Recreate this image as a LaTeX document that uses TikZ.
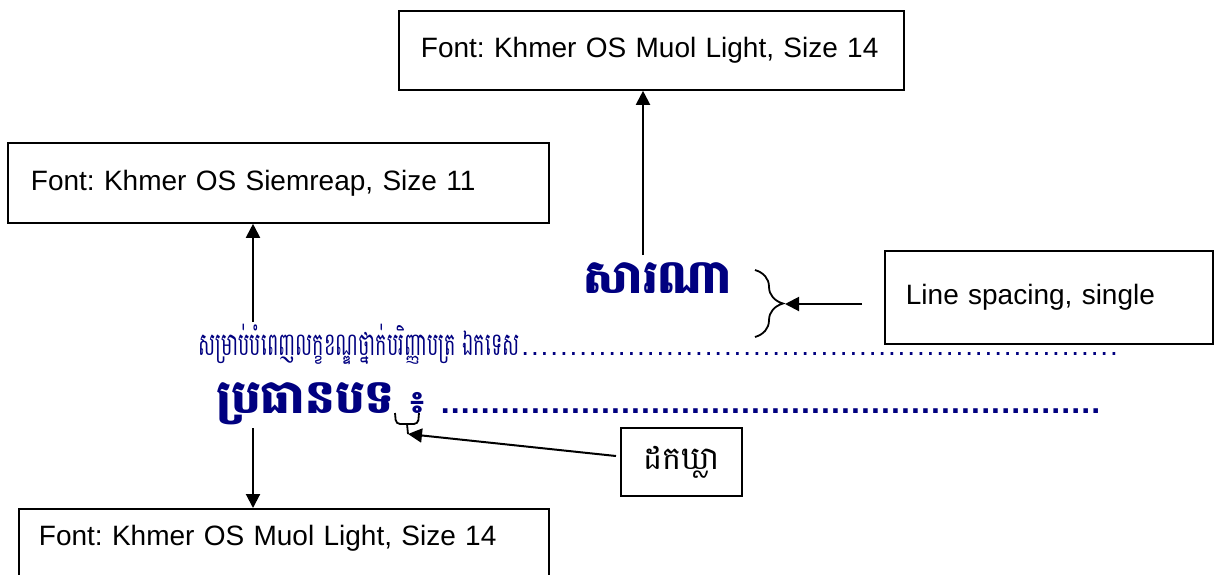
\documentclass[tikz,border=0pt]{standalone}
\usepackage{fontspec}
\setmainfont{Liberation Sans}
\newfontfamily\khmer[Script=Khmer, FakeStretch=0.6]{Battambang}
\newfontfamily\khmerb[Script=Khmer]{Battambang}
\usepackage{tikz}
\usetikzlibrary{arrows.meta,positioning,decorations.pathreplacing}
\definecolor{cnavy}{HTML}{000080}
\newcommand{\dotrow}[2]{\hbox to #1{\xleaders\hbox to #2{\hss.\hss}\hfill}}
\frenchspacing
\tikzset{
  fbox/.style={draw, line width=0.9pt, anchor=north west, align=left,
               inner xsep=11pt, inner ysep=0pt, font=\fontsize{14}{17}\selectfont},
  kh/.style={text=cnavy, inner sep=0pt, font=\khmer\fontsize{16}{20}\selectfont},
  khb/.style={text=cnavy, inner sep=0pt, font=\khmerb\bfseries\fontsize{23.4}{28}\selectfont},
  flow/.style={-{Triangle[length=7pt, width=7pt]}, line width=1pt},
  brc/.style={decorate, line width=0.9pt},
}
\begin{document}
\begin{tikzpicture}[x=0.5pt, y=-0.5pt]
  \useasboundingbox (0,0) rectangle (1224,574);
  \clip (0,0) rectangle (1224,574);
  % font boxes
  \node[fbox, text width=230.5pt, minimum height=39.5pt] (muol) at (398,10) {Font: Khmer OS Muol Light, Size 14};
  \node[fbox, inner xsep=11.5pt, text width=247.5pt, minimum height=40pt] (siem) at (7,142) {Font: Khmer OS Siemreap, Size 11};
  \node[fbox, inner xsep=10pt, text width=245pt, text height=18.5pt, text depth=40pt] (muol2) at (18,508) {Font: Khmer OS Muol Light, Size 14};
  \node[fbox, inner xsep=10.5pt, text width=143pt, minimum height=46.5pt] (spacing) at (884,250) {Line spacing, single};
  \node[fbox, align=center, inner xsep=0pt, text width=60.5pt, minimum height=34pt, font=\khmerb\fontsize{16}{20}\selectfont] (gap) at (620,427) {ដកឃ្លា};
  % page text
  \node[khb, anchor=base] (title) at (658,293) {សារណា};
  \node[kh, anchor=base west] (sub) at (198,355) {សម្រាប់បំពេញលក្ខខណ្ឌថ្នាក់បរិញ្ញាបត្រ ឯកទេស};
  \node[anchor=base west, inner sep=0pt, text=cnavy, font=\fontsize{14}{16}\selectfont] (dots2) at (sub.base east) {\dotrow{299pt}{4.8pt}};
  \node[khb, anchor=base west] (subj) at (216,413) {ប្រធានបទ};
  \node[khb, anchor=base west, font=\khmerb\bfseries\fontsize{16}{20}\selectfont] (colon) at (410,413) {៖};
  \node[anchor=base west, inner sep=0pt, text=cnavy, font=\bfseries\fontsize{16}{18}\selectfont] (dots3) at (440,413) {\dotrow{330pt}{5pt}};
  % braces
  \coordinate (bt) at (755,270);
  \coordinate (bb) at (755,337);
  \coordinate (tipL) at (785,304);
  \draw[brc, decoration={brace, amplitude=14pt}] (bt) -- (bb);
  \coordinate (tipS) at (408,434);
  \draw[line width=0.9pt, rounded corners=2pt] (395,413) -- (396,424) -- (418,424) -- (419,413);
  \draw[line width=0.9pt] (407,424) -- (tipS);
  % arrows
  \coordinate (a1) at (643,255);
  \coordinate (a2) at (253,322);
  \coordinate (a3) at (253,428);
  \coordinate (a4) at (862,304);
  \coordinate (a5) at (616,456);
  \draw[flow] (a1) -- (a1 |- muol.south);
  \draw[flow] (a2) -- (a2 |- siem.south);
  \draw[flow] (a3) -- (a3 |- muol2.north);
  \draw[flow] (a4) -- (tipL);
  \draw[flow] (a5) -- (tipS);
\end{tikzpicture}
\end{document}
